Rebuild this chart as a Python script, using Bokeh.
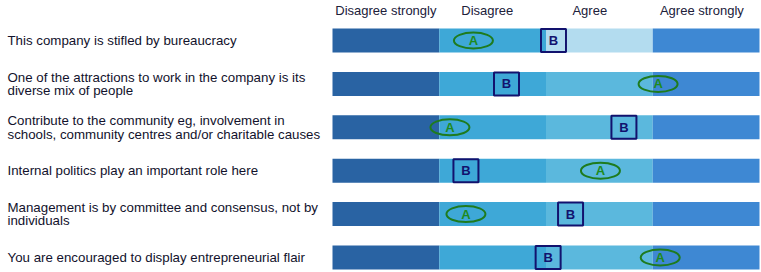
from bokeh.plotting import figure
from bokeh.models import Range1d
from bokeh.core.properties import value
from bokeh.embed import file_html
from bokeh.resources import INLINE

statements = [
    "This company is stifled by bureaucracy",
    "One of the attractions to work in the company is its\ndiverse mix of people",
    "Contribute to the community eg, involvement in\nschools, community centres and/or charitable causes",
    "Internal politics play an important role here",
    "Management is by committee and consensus, not by\nindividuals",
    "You are encouraged to display entrepreneurial flair",
]
scale_labels = ["Disagree strongly", "Disagree", "Agree", "Agree strongly"]
score_a = [1.32, 3.05, 1.10, 2.51, 1.25, 3.07]
score_b = [2.07, 1.63, 2.73, 1.25, 2.23, 2.02]

seg_colors = ["#2963a3", "#3ea8d7", "#5bb8dd", "#3e88d3"]
highlight_agree = "#b3dcef"

W, H = 761, 272
px_x = 106.75
px_y = 43.4
x0 = -332 / px_x
x1 = (W - 332) / px_x
y_top = -40 / px_y
y_bot = (H - 40) / px_y

p = figure(width=W, height=H, output_backend="svg", toolbar_location=None,
           x_range=Range1d(x0, x1), y_range=Range1d(y_bot, y_top),
           min_border=0, outline_line_color=None)
p.axis.visible = False
p.grid.visible = False
p.background_fill_color = "white"
p.border_fill_color = "white"

n = len(statements)
rows = list(range(n))

# segments
for k in range(4):
    cols = [seg_colors[k]] * n
    if k == 2:
        cols[0] = highlight_agree
    p.hbar(y=rows, left=k, right=k + 1, height=24 / px_y, fill_color=cols,
           line_color=None)

# header labels
hdr_shift = [0.0, -0.05, -0.09, -0.04]
p.text(x=[k + 0.5 + hdr_shift[k] for k in range(4)], y=[-30 / px_y] * 4,
       text=scale_labels, text_align="center", text_baseline="middle",
       text_font=value("Liberation Sans"), text_font_size="13px",
       text_color="#20203a")

# statements
p.text(x=[x0 + 7 / px_x] * n, y=rows, text=statements, text_align="left",
       text_baseline="middle", text_font=value("Liberation Sans"),
       text_font_size="13.3px", text_color="#12122c", text_line_height=0.92)

# markers A
p.ellipse(x=score_a, y=rows, width=39, height=16, width_units="screen",
          height_units="screen", fill_color=None, line_color="#1e7b1e",
          line_width=2)
p.text(x=score_a, y=rows, text=["A"] * n, text_align="center",
       text_baseline="middle", text_font=value("Liberation Sans"),
       text_font_style="bold", text_font_size="13px", text_color="#1e8a1e")

# markers B
p.rect(x=score_b, y=rows, width=25, height=23, width_units="screen",
       height_units="screen", fill_color=None, line_color="#12126e",
       line_width=2)
p.text(x=score_b, y=rows, text=["B"] * n, text_align="center",
       text_baseline="middle", text_font=value("Liberation Sans"),
       text_font_style="bold", text_font_size="13px", text_color="#12126e")

open("out.html", "w").write(file_html(p, INLINE))
